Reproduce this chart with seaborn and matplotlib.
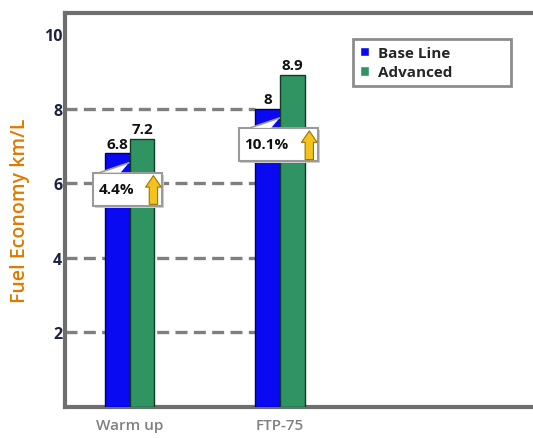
import matplotlib
matplotlib.use("Agg")
import matplotlib.pyplot as plt
from matplotlib.patches import Rectangle, Polygon
import seaborn as sns
import pandas as pd

# Fuel economy per drive cycle, km/L
cycles = ["Warm up", "FTP-75"]
base_line = [6.8, 8.0]
advanced = [7.2, 8.9]
gains = ["4.4%", "10.1%"]
series_names = ["Base Line", "Advanced"]
y_ticks = [2, 4, 6, 8, 10]

df = pd.DataFrame({
    "cycle": cycles * 2,
    "economy": base_line + advanced,
    "config": [series_names[0]] * len(cycles) + [series_names[1]] * len(cycles),
})

sns.set_theme(style="white")
plt.rcParams["font.family"] = ["Open Sans", "DejaVu Sans"]

BLUE = "#0a0af2"
GREEN = "#2f9462"
FRAME = "#6e6e6e"
GRID = "#7f7f7f"

fig = plt.figure(figsize=(5.33, 4.39), dpi=100)
# frame runs off the right edge of the canvas
ax = fig.add_axes([0.122, 0.0706, 0.888, 0.897])

sns.barplot(data=df, x="cycle", y="economy", hue="config",
            palette=[BLUE, GREEN], width=0.33, gap=0, ax=ax,
            saturation=1, zorder=3)

edge_cols = ["#00005a", "#0f3d24"]
for cont, ec in zip(ax.containers, edge_cols):
    for p in cont:
        p.set_edgecolor(ec)
        p.set_linewidth(1.0)
    ax.bar_label(cont, fmt="{:g}", padding=2, fontsize=11,
                 fontweight="bold", color="#111111", zorder=6)

ax.set_xlim(-0.429, 2.714)
ax.set_ylim(0, 10.56)

# dashed guide lines reaching across to the second group
ax.hlines([2, 4, 6, 8], -0.429, 0.835, colors=GRID, lw=2.4,
          linestyles=(0, (3.6, 1.9)), zorder=1)

ax.set_yticks(y_ticks)
ax.set_yticklabels([str(t) for t in y_ticks])
ax.tick_params(axis="y", left=False, length=0, pad=2, labelsize=11.5,
               labelcolor="#1c2340")
for lab in ax.get_yticklabels():
    lab.set_fontweight("bold")
ax.tick_params(axis="x", bottom=False, length=0, pad=8, labelsize=11,
               labelcolor="#808080")
for lab in ax.get_xticklabels():
    lab.set_fontweight("semibold")

ax.set_xlabel("")
ax.set_ylabel("Fuel Economy km/L", fontsize=14, fontweight="semibold",
              color="#e07a00", labelpad=10)

for s in ax.spines.values():
    s.set_visible(True)
    s.set_color(FRAME)
    s.set_linewidth(3)

# improvement callouts
for i, (b, g) in enumerate(zip(base_line, gains)):
    cy = b - 0.96
    w = 0.46 if len(g) < 5 else 0.53
    h = 0.89
    x0 = i - 0.012 - w / 2
    y0 = cy - h / 2
    ax.add_patch(Rectangle((x0 + 0.012, y0 - 0.05), w, h, fc="#cfcfcf",
                           ec="none", zorder=4))
    ax.add_patch(Rectangle((x0, y0), w, h, fc="white", ec="#9a9a9a",
                           lw=1.5, zorder=5))
    ax.add_patch(Polygon([(i - 0.2, y0 + h), (i - 0.06, y0 + h),
                          (i - 0.005, b - 0.25)], closed=True,
                         fc="white", ec="none", zorder=5))
    ax.plot([i - 0.2, i - 0.005], [y0 + h, b - 0.25], color="#9a9a9a",
            lw=1.2, zorder=5)
    ax.text(x0 + 0.035, cy, g, ha="left", va="center", fontsize=11,
            fontweight="bold", color="#111111", zorder=6)
    ax_x = x0 + w - 0.06
    ax.annotate("", xy=(ax_x, y0 + h - 0.08), xytext=(ax_x, y0 + 0.04),
                arrowprops=dict(arrowstyle="simple,head_length=0.55,head_width=0.75,tail_width=0.4",
                                fc="#f4c21c", ec="#9a7400", lw=0.8,
                                mutation_scale=15, shrinkA=0, shrinkB=0),
                zorder=6)

handles, labels = ax.get_legend_handles_labels()
if ax.get_legend() is not None:
    ax.get_legend().remove()
leg = ax.legend(handles, labels, loc="upper left",
                bbox_to_anchor=(0.592, 0.817, 0.366, 0.137), mode="expand",
                frameon=True, fancybox=False, handlelength=0.6,
                handleheight=0.6, handletextpad=0.6, labelspacing=0.35,
                borderpad=0.45, prop={"weight": "bold", "size": 11})
leg.get_frame().set_edgecolor("#707070")
leg.get_frame().set_linewidth(2)
leg.set_zorder(7)

fig.savefig("out.png", dpi=100)
